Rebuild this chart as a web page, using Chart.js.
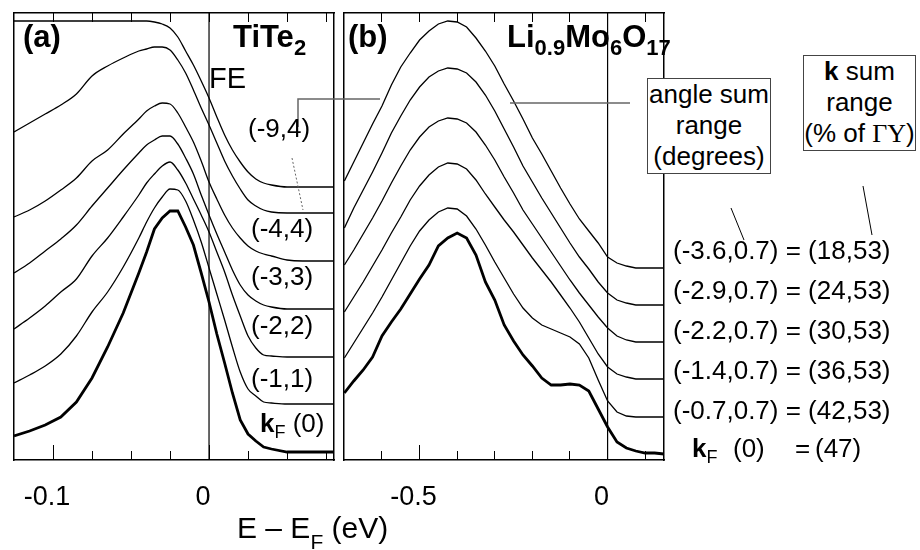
<!DOCTYPE html>
<html>
<head>
<meta charset="utf-8">
<script src="https://cdn.jsdelivr.net/npm/chart.js@4.4.0/dist/chart.umd.min.js"></script>
<style>
    body { margin: 0; width: 920px; height: 550px; overflow: hidden; position: relative; background: #fff;
           font-family: "Liberation Sans", Arial, sans-serif; color: #000; }
    canvas { position: absolute; top: 3px; }
    #chartA { left: 4px; }
    #chartB { left: 334px; }
    .t { position: absolute; white-space: nowrap; line-height: 1; font-size: 26px; }
    .t sub { font-size: 18px; vertical-align: -6px; line-height: 0; }
    .t.h { font-weight: bold; font-size: 31px; }
    .t.h sub { font-size: 22px; vertical-align: -8px; line-height: 0; }
    .box { position: absolute; box-sizing: border-box; border: 1px solid #444; background: #fff;
           text-align: center; font-size: 26px; line-height: 31px; white-space: nowrap; }
    .serif { font-family: "Liberation Serif", "Times New Roman", serif; }
    svg { position: absolute; left: 0; top: 0; }
</style>
</head>
<body>
<canvas id="chartA" width="340" height="527"></canvas>
<canvas id="chartB" width="340" height="527"></canvas>

<svg width="920" height="550">
    <polyline points="380,99 298,99 298,127" fill="none" stroke="#666" stroke-width="1.5"/>
    <line x1="510" y1="103" x2="630" y2="103" stroke="#666" stroke-width="1.5"/>
    <line x1="292" y1="158" x2="303" y2="210" stroke="#666" stroke-width="1" stroke-dasharray="2,2"/>
    <line x1="731" y1="208" x2="744" y2="240" stroke="#000" stroke-width="1"/>
    <line x1="863" y1="186" x2="872" y2="235" stroke="#000" stroke-width="1"/>
</svg>

<div class="t h" style="left:23px;top:21px">(a)</div>
<div class="t h" style="left:233px;top:21px">TiTe<sub>2</sub></div>
<div class="t h" style="left:348px;top:21px">(b)</div>
<div class="t h" style="left:507px;top:21px">Li<sub>0.9</sub>Mo<sub>6</sub>O<sub>17</sub></div>
<div class="t" style="left:209px;top:64px;font-size:29px">FE</div>

<div class="t" style="left:248px;top:115px">(-9,4)</div>
<div class="t" style="left:251px;top:215px">(-4,4)</div>
<div class="t" style="left:251px;top:263px">(-3,3)</div>
<div class="t" style="left:251px;top:312px">(-2,2)</div>
<div class="t" style="left:251px;top:365px">(-1,1)</div>
<div class="t" style="left:260px;top:410px"><b>k</b><sub>F</sub> (0)</div>

<div class="box" style="left:647px;top:78px;width:124px;height:96px">angle sum<br>range<br>(degrees)</div>
<div class="box" style="left:803px;top:55px;width:113px;height:96px"><b>k</b> sum<br>range<br>(% of <span class="serif">ΓY</span>)</div>

<div class="t" style="left:673px;top:237px">(-3.6,0.7) = (18,53)</div>
<div class="t" style="left:673px;top:277px">(-2.9,0.7) = (24,53)</div>
<div class="t" style="left:673px;top:317px">(-2.2,0.7) = (30,53)</div>
<div class="t" style="left:673px;top:357px">(-1.4,0.7) = (36,53)</div>
<div class="t" style="left:673px;top:397px">(-0.7,0.7) = (42,53)</div>
<div class="t" style="left:692px;top:435px"><b>k</b><sub>F</sub></div>
<div class="t" style="left:733px;top:435px">(0)</div>
<div class="t" style="left:795px;top:435px">=</div>
<div class="t" style="left:815px;top:435px">(47)</div>

<div class="t" style="left:237px;top:513px;font-size:30px">E – E<sub style="font-size:21px;vertical-align:-11px">F</sub> (eV)</div>

<script>
// (a) TiTe2, energy in eV, intensity in arbitrary units (offset stack)
const energyA = [-0.125, -0.115, -0.105, -0.095, -0.085, -0.075, -0.065, -0.055, -0.045, -0.04, -0.035,
    -0.03, -0.025, -0.02, -0.015, -0.01, -0.005, 0, 0.005, 0.01, 0.015, 0.02, 0.025, 0.03, 0.035, 0.04,
    0.05, 0.06, 0.08];
const aFermiEdge = [439, 439, 439, 439, 439, 439, 439, 439, 439, 439, 438, 436, 432, 423, 409, 395, 379, 362,
    343, 325, 310, 298, 288, 281, 277, 275, 273, 273, 273];
const aSum9 = [328, 337, 346, 355, 366, 384, 394, 402, 409, 411, 413, 413, 410, 400, 387, 370, 352, 335,
    317, 299, 284, 271, 260, 254, 250, 248, 247, 247, 247];
const aSum4 = [243, 250, 259, 270, 282, 299, 310, 326, 341, 349, 354, 357, 356, 347, 333, 318, 299, 278,
    261, 245, 232, 222, 214, 209, 206, 204, 200, 199, 199];
const aSum3 = [187, 197, 209, 221, 235, 254, 272, 290, 307, 315, 320, 324, 324, 316, 302, 286, 265, 245,
    226, 208, 190, 175, 165, 159, 155, 153, 151, 151, 151];
const aSum2 = [131, 142, 154, 168, 181, 204, 222, 243, 265, 277, 286, 294, 298, 290, 277, 261, 245, 228,
    208, 188, 165, 144, 124, 112, 105, 104, 103, 103, 103];
const aSum1 = [77, 85, 94, 106, 124, 148, 168, 193, 222, 238, 252, 263, 271, 270, 259, 240, 218, 192,
    166, 140, 113, 88, 71, 64, 58, 57, 56, 56, 56];
const aKF = [24, 29, 35, 43, 58, 82, 113, 147, 187, 208, 231, 242, 249, 249, 233, 215, 187, 158,
    126, 97, 67, 40, 26, 19, 13, 11, 8, 8, 8];

// (b) Li0.9Mo6O17
const energyB = [-0.7, -0.675, -0.65, -0.625, -0.6, -0.575, -0.55, -0.525, -0.5, -0.475, -0.45, -0.425,
    -0.4, -0.375, -0.35, -0.325, -0.3, -0.275, -0.25, -0.225, -0.2, -0.175, -0.15, -0.125, -0.1, -0.075,
    -0.05, -0.025, 0, 0.025, 0.05, 0.075, 0.1, 0.125, 0.15];
const bSum36 = [279, 298, 317, 336, 354, 375, 393, 407, 420, 429, 436, 439, 438, 433, 422, 409, 394, 376,
    359, 341, 322, 306, 289, 272, 256, 241, 229, 217, 203, 197, 194, 192, 192, 192, 192];
const bSum29 = [232, 252, 270, 288, 307, 327, 344, 360, 373, 383, 389, 392, 391, 387, 378, 365, 349, 331,
    313, 294, 278, 262, 247, 232, 217, 203, 191, 178, 167, 160, 157, 155, 155, 155, 155];
const bSum22 = [195, 210, 226, 242, 259, 277, 294, 310, 323, 333, 339, 342, 341, 337, 328, 315, 300, 283,
    267, 250, 236, 222, 208, 194, 180, 167, 155, 143, 132, 124, 120, 118, 118, 118, 118];
const bSum14 = [148, 163, 178, 194, 210, 227, 243, 260, 274, 285, 293, 297, 296, 291, 280, 266, 253, 240,
    228, 215, 202, 190, 178, 165, 152, 138, 122, 106, 93, 86, 83, 81, 81, 81, 81];
const bSum07 = [102, 117, 132, 147, 163, 180, 197, 214, 229, 240, 248, 252, 251, 244, 231, 215, 198, 182,
    166, 152, 142, 135, 131, 127, 123, 116, 102, 80, 59, 48, 44, 43, 43, 43, 43];
const bKF = [67, 79, 90, 103, 124, 138, 151, 166, 181, 195, 214, 222, 227, 222, 205, 178, 160, 135,
    119, 105, 94, 82, 75, 75, 76, 75, 69, 51, 33, 18, 12, 9, 7, 7, 6];

const rangeA = [-0.125, 0.0801];
const rangeB = [-0.701, 0.15];
const intensityRange = [0, 447];
const ticksA = [-0.1, -0.075, -0.05, -0.025, 0, 0.025, 0.05, 0.075];
const majorA = [-0.1, 0];
const ticksB = [-0.6, -0.5, -0.4, -0.3, -0.2, -0.1, 0, 0.1];
const majorB = [-0.5, 0];
const fermiLevel = [0, 0];

const FONT = '"Liberation Sans", Arial, sans-serif';

function toPoints(xs, ys) {
    return xs.map((x, i) => ({ x, y: ys[i] }));
}

function fixedTicks(values) {
    return (scale) => {
        scale.ticks = values.map((value) => ({ value }));
    };
}

function isMajor(value, majors) {
    return majors.some((m) => Math.abs(m - value) < 1e-9);
}

// extra zero-height axis that only draws inward tick marks
function tickAxis(position, range, values, length) {
    return {
        type: 'linear',
        position,
        weight: 0,
        min: range[0],
        max: range[1],
        afterBuildTicks: fixedTicks(values),
        afterFit: (scale) => { scale.height = 0; },
        grid: { drawOnChartArea: false, tickLength: -length, color: '#000', lineWidth: 1 },
        border: { display: false },
        ticks: { display: false },
    };
}

function buildChart(canvasId, energies, thinSeries, thickSeries, range, minorTicks, majorTicks, smooth) {
    const datasets = thinSeries.map((series) => ({
        data: toPoints(energies, series),
        borderColor: '#000',
        borderWidth: 1.3,
        pointRadius: 0,
        cubicInterpolationMode: smooth ? 'monotone' : 'default',
        tension: 0,
    }));

    datasets.push({
        data: toPoints(energies, thickSeries),
        borderColor: '#000',
        borderWidth: 2.8,
        pointRadius: 0,
        tension: 0,
    });

    datasets.push({
        data: toPoints(fermiLevel, intensityRange),
        borderColor: '#000',
        borderWidth: 1.2,
        pointRadius: 0,
    });

    const frame = { display: true, color: '#000', width: 1.5 };

    return new Chart(document.getElementById(canvasId), {
        type: 'line',
        data: { datasets },
        options: {
            responsive: false,
            animation: false,
            devicePixelRatio: 1,
            layout: { padding: 10 },
            plugins: { legend: { display: false }, tooltip: { enabled: false } },
            scales: {
                x: {
                    type: 'linear',
                    position: 'bottom',
                    weight: 1,
                    min: range[0],
                    max: range[1],
                    afterBuildTicks: fixedTicks(majorTicks),
                    afterFit: (scale) => { scale.height = 60; },
                    grid: { drawOnChartArea: false, tickLength: 21, tickColor: 'rgba(0,0,0,0)' },
                    border: frame,
                    ticks: {
                        autoSkip: false,
                        maxRotation: 0,
                        padding: 0,
                        labelOffset: -6,
                        color: '#000',
                        font: { family: FONT, size: 27 },
                        callback: (value) => (value === 0 ? '0' : String(value)),
                    },
                },
                xMinor: tickAxis('bottom', range, minorTicks, 9),
                xMajor: tickAxis('bottom', range, majorTicks, 15),
                xTop: { ...tickAxis('top', range, minorTicks, 9), border: frame },
                y: {
                    position: 'left',
                    min: intensityRange[0],
                    max: intensityRange[1],
                    afterFit: (scale) => { scale.width = 0; },
                    grid: { display: false },
                    border: frame,
                    ticks: { display: false },
                },
                yRight: {
                    position: 'right',
                    min: intensityRange[0],
                    max: intensityRange[1],
                    afterFit: (scale) => { scale.width = 0; },
                    grid: { display: false },
                    border: frame,
                    ticks: { display: false },
                },
            },
        },
    });
}

buildChart('chartA', energyA, [aFermiEdge, aSum9, aSum4, aSum3, aSum2, aSum1], aKF,
    rangeA, ticksA, majorA, true);
buildChart('chartB', energyB, [bSum36, bSum29, bSum22, bSum14, bSum07], bKF,
    rangeB, ticksB, majorB, false);
</script>
</body>
</html>
